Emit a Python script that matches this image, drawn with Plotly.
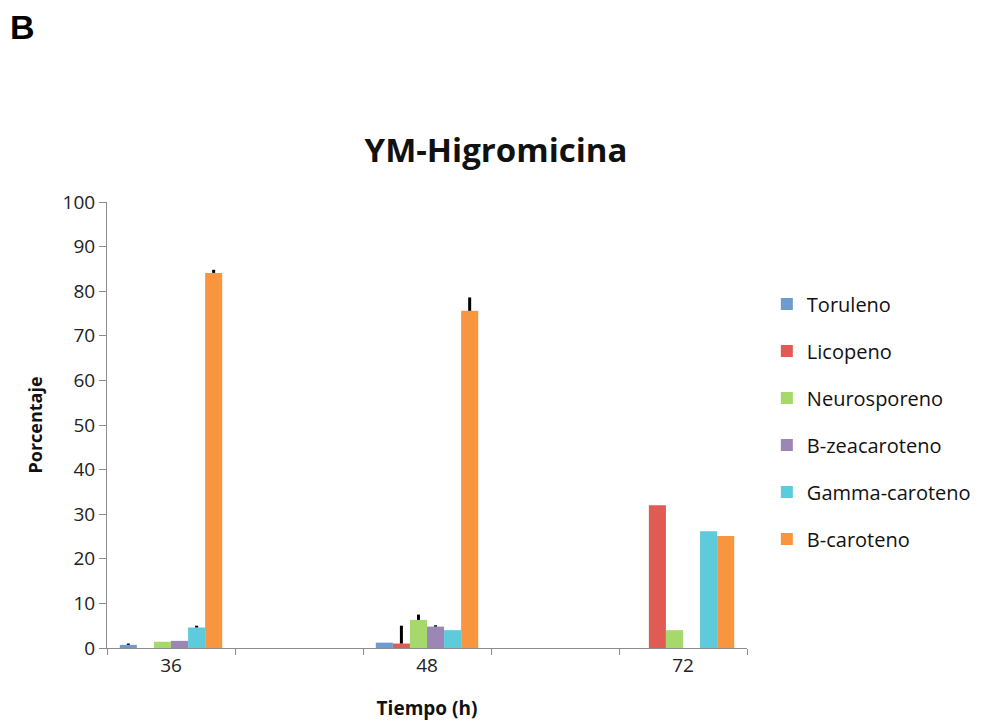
import plotly.graph_objects as go

# Tiempo de cultivo (h); las categorías en blanco separan los grupos
categorias = ["36", " ", "48", "  ", "72"]
tiempos = ["36", "48", "72"]

series = ["Toruleno", "Licopeno", "Neurosporeno", "B-zeacaroteno", "Gamma-caroteno", "B-caroteno"]
colores = ["#6e9bcf", "#e15b55", "#a6d86b", "#9b86b6", "#5ecbdc", "#f8963f"]

# Porcentaje de cada carotenoide por tiempo
toruleno = [0.7, 1.2, 0.0]
licopeno = [0.0, 1.0, 32.0]
neurosporeno = [1.4, 6.3, 4.0]
b_zeacaroteno = [1.6, 4.8, 0.0]
gamma_caroteno = [4.6, 4.0, 26.2]
b_caroteno = [84.1, 75.6, 25.1]

# Desviación (solo hacia arriba)
err_toruleno = [0.3, 0.0, 0.0]
err_licopeno = [0.0, 4.0, 0.0]
err_neurosporeno = [0.0, 1.2, 0.0]
err_b_zeacaroteno = [0.0, 0.3, 0.0]
err_gamma_caroteno = [0.4, 0.0, 0.0]
err_b_caroteno = [0.7, 3.0, 0.0]

valores = [toruleno, licopeno, neurosporeno, b_zeacaroteno, gamma_caroteno, b_caroteno]
errores = [err_toruleno, err_licopeno, err_neurosporeno, err_b_zeacaroteno,
           err_gamma_caroteno, err_b_caroteno]

fuente = "Open Sans"

fig = go.Figure()
for nombre, color, y, e in zip(series, colores, valores, errores):
    fig.add_trace(go.Bar(
        x=tiempos, y=y, name=nombre, legendgroup=nombre,
        marker=dict(color=color, line=dict(width=0)),
        error_y=dict(type="data", symmetric=False, array=e,
                     arrayminus=[0] * len(e), color="black",
                     thickness=3, width=0),
    ))

fig.update_layout(
    width=988, height=721,
    margin=dict(l=107, r=241, t=202, b=73, autoexpand=False),
    paper_bgcolor="white", plot_bgcolor="white",
    barmode="group", bargap=0.2, bargroupgap=0,
    font=dict(family=fuente, color="#222222"),
    title=dict(text="<b>YM-Higromicina</b>", x=0.502, xanchor="center",
               y=0.792, yanchor="middle",
               font=dict(family=fuente, size=33, color="#111111")),
    showlegend=True,
    legend=dict(x=1.031, xanchor="left", y=0.815, yanchor="top",
                font=dict(family=fuente, size=20, color="#111111"),
                traceorder="grouped", tracegroupgap=18,
                itemwidth=30, bgcolor="rgba(0,0,0,0)"),
    xaxis=dict(
        type="category", categoryorder="array", categoryarray=categorias,
        tickmode="linear", tick0=0, dtick=1,
        tickson="boundaries", ticks="outside", ticklen=6, tickcolor="#8c8c8c",
        showline=True, linecolor="#8c8c8c", linewidth=1, showgrid=False,
        tickfont=dict(family=fuente, size=19, color="#222222"),
        title=dict(text="<b>Tiempo (h)</b>", standoff=24,
                   font=dict(family=fuente, size=19, color="#111111")),
    ),
    yaxis=dict(
        range=[0, 100], tickmode="linear", tick0=0, dtick=10,
        ticks="outside", ticklen=7, tickcolor="#8c8c8c",
        showline=True, linecolor="#8c8c8c", linewidth=1, showgrid=False,
        zeroline=False,
        tickfont=dict(family=fuente, size=19, color="#222222"),
        title=dict(text="<b>Porcentaje</b>", standoff=15,
                   font=dict(family=fuente, size=18, color="#111111")),
    ),
)

fig.add_annotation(text="<b>B</b>", xref="paper", yref="paper",
                   x=-0.155, y=1.392, xanchor="left", yanchor="middle",
                   showarrow=False,
                   font=dict(family="Liberation Sans", size=34, color="black"))

fig.write_html("out.html")
